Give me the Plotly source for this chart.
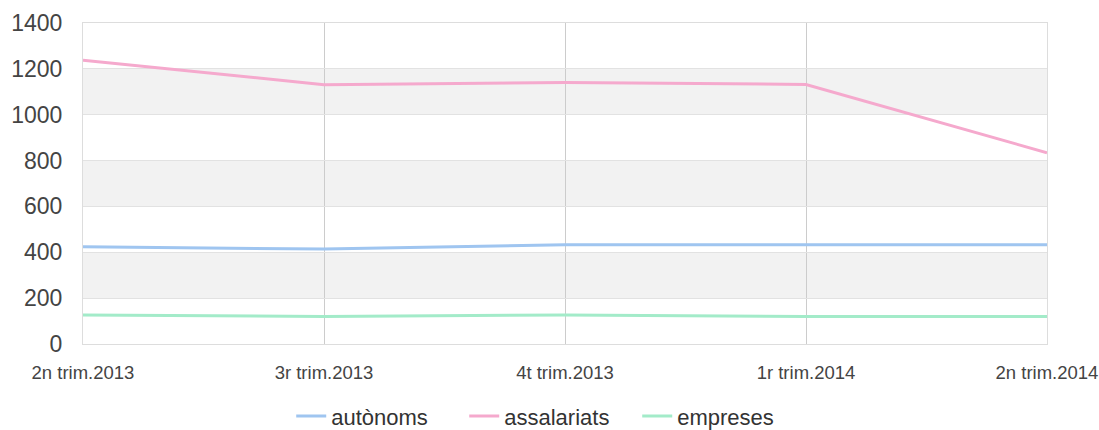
import plotly.graph_objects as go

categories = ["2n trim.2013", "3r trim.2013", "4t trim.2013", "1r trim.2014", "2n trim.2014"]
autonoms = [424, 414, 433, 433, 433]
assalariats = [1238, 1131, 1141, 1132, 834]
empreses = [127, 120, 127, 120, 120]
y_ticks = [0, 200, 400, 600, 800, 1000, 1200, 1400]

series = [
    ("autònoms", autonoms, "#9fc5f0"),
    ("assalariats", assalariats, "#f5a9cd"),
    ("empreses", empreses, "#a3ebc9"),
]

fig = go.Figure()
for name, vals, color in series:
    fig.add_trace(go.Scatter(
        x=categories, y=vals, name=name, mode="lines",
        line=dict(color=color, width=3),
        hoverinfo="x+y+name",
    ))

# alternating bands
shapes = []
for i in range(1, len(y_ticks) - 1, 2):
    shapes.append(dict(
        type="rect", xref="paper", yref="y", x0=0, x1=1,
        y0=y_ticks[i], y1=y_ticks[i + 1],
        fillcolor="#f2f2f2", line=dict(width=0), layer="below",
    ))

fig.update_layout(
    width=1099, height=430,
    margin=dict(l=83, r=52, t=23, b=86, autoexpand=False),
    paper_bgcolor="white", plot_bgcolor="white",
    font=dict(family="Liberation Sans, Arial, sans-serif", color="#444"),
    shapes=shapes,
    showlegend=True,
    legend=dict(
        orientation="h", x=0.216, xanchor="left", y=-0.225, yanchor="middle",
        font=dict(size=22, color="#333"),
        entrywidth=128, entrywidthmode="pixels",
        bgcolor="rgba(0,0,0,0)",
    ),
    xaxis=dict(
        type="category", range=[0, len(categories) - 1],
        showgrid=True, gridcolor="#cccccc", gridwidth=1,
        showline=True, mirror=True, linecolor="#dddddd", linewidth=1,
        ticks="", tickfont=dict(size=18.5, color="#444"),
        ticklabelstandoff=12, zeroline=False, automargin=False,
    ),
    yaxis=dict(
        range=[0, 1400], tickvals=y_ticks,
        showgrid=True, gridcolor="#e2e2e2", gridwidth=1,
        showline=True, mirror=True, linecolor="#dddddd", linewidth=1,
        ticks="", tickfont=dict(size=23, color="#444"),
        ticklabelstandoff=15, zeroline=False, automargin=False,
    ),
)

fig.write_html(
    "out.html",
    config={"displayModeBar": False},
    post_script="document.body.style.margin='0';document.body.style.overflow='hidden';",
)
